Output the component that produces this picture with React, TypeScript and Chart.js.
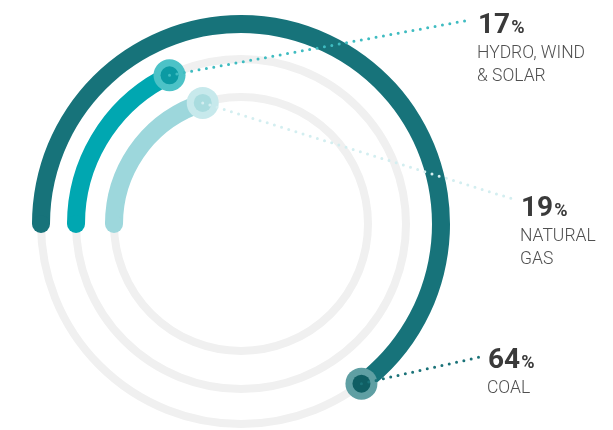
import React, { useEffect, useRef } from "react";
import { Chart, registerables } from "chart.js";

Chart.register(...registerables);

// ---- data (outer ring -> inner ring) ----
const categories = ["COAL", "HYDRO, WIND & SOLAR", "NATURAL GAS"];
const shares = [64, 17, 19];
const valueLabels = ["64", "17", "19"];
const labelLines = [["COAL"], ["HYDRO, WIND", "& SOLAR"], ["NATURAL", "GAS"]];

// ---- styles ----
const ringColors = ["#17737a", "#00a7b1", "#9dd7dc"];
const haloColors = ["#5f9fa3", "#4cc2c7", "#c7e9ec"];
const dotColors = ["#0f5e63", "#0b9aa3", "#a9dcdf"];
const leaderColors = ["#1a7278", "#3fbcc1", "#d3eef0"];
const labelAnchors = [
  { lx: 480, ly: 357, tx: 488, ty: 368 },
  { lx: 470, ly: 20, tx: 478, ty: 33 },
  { lx: 513, ly: 199, tx: 521, ty: 216 },
];
const RING_W = 18;
const GAPS = [17, 20];

export default function App() {
  const ref = useRef<HTMLCanvasElement | null>(null);

  useEffect(() => {
    if (!ref.current) return;
    const ringIdx: number[] = [];
    const datasets: any[] = [];
    shares.forEach((v, i) => {
      ringIdx.push(datasets.length);
      datasets.push({
        label: categories[i],
        data: [v, 100 - v],
        backgroundColor: [ringColors[i], "rgba(0,0,0,0)"],
        borderWidth: 0,
        weight: RING_W,
        hoverOffset: 0,
      });
      if (i < shares.length - 1) {
        datasets.push({
          label: "gap",
          data: [100],
          backgroundColor: ["rgba(0,0,0,0)"],
          borderWidth: 0,
          weight: GAPS[i],
          hoverOffset: 0,
        });
      }
    });

    const ringPlugin = {
      id: "ringDecor",
      beforeDatasetsDraw(chart: any) {
        const ctx = chart.ctx;
        ctx.save();
        ringIdx.forEach((di) => {
          const a: any = chart.getDatasetMeta(di).data[0];
          const r = (a.innerRadius + a.outerRadius) / 2;
          ctx.beginPath();
          ctx.arc(a.x, a.y, r, 0, Math.PI * 2);
          ctx.strokeStyle = "#f0f0f0";
          ctx.lineWidth = 8;
          ctx.stroke();
        });
        ctx.restore();
      },
      afterDatasetsDraw(chart: any) {
        const ctx = chart.ctx;
        ctx.save();
        const ends: { x: number; y: number }[] = [];
        ringIdx.forEach((di, i) => {
          const a: any = chart.getDatasetMeta(di).data[0];
          const r = (a.innerRadius + a.outerRadius) / 2;
          const th = a.outerRadius - a.innerRadius;
          // round caps (start and end), like a round line cap
          ctx.fillStyle = ringColors[i];
          ctx.beginPath();
          ctx.arc(a.x + r * Math.cos(a.startAngle), a.y + r * Math.sin(a.startAngle), th / 2, 0, Math.PI * 2);
          ctx.fill();
          ctx.beginPath();
          ctx.arc(a.x + r * Math.cos(a.endAngle), a.y + r * Math.sin(a.endAngle), th / 2, 0, Math.PI * 2);
          ctx.fill();
          // end marker sits at the tip of the round cap
          const tip = a.endAngle + th / 2 / r;
          const ex = a.x + r * Math.cos(tip);
          const ey = a.y + r * Math.sin(tip);
          ctx.beginPath();
          ctx.arc(ex, ey, 16, 0, Math.PI * 2);
          ctx.fillStyle = haloColors[i];
          ctx.fill();
          ctx.beginPath();
          ctx.arc(ex, ey, 9, 0, Math.PI * 2);
          ctx.fillStyle = dotColors[i];
          ctx.fill();
          ends.push({ x: ex, y: ey });
        });
        // dotted leaders
        ends.forEach((p, i) => {
          const an = labelAnchors[i];
          ctx.beginPath();
          ctx.setLineDash([0, 7.5]);
          ctx.lineCap = "round";
          ctx.lineWidth = 3;
          ctx.strokeStyle = leaderColors[i];
          ctx.moveTo(p.x, p.y);
          ctx.lineTo(an.lx, an.ly);
          ctx.stroke();
        });
        ctx.restore();
      },
      afterDraw(chart: any) {
        const ctx = chart.ctx;
        ctx.save();
        ctx.textBaseline = "alphabetic";
        ctx.textAlign = "left";
        labelAnchors.forEach((an, i) => {
          ctx.fillStyle = "#3a3a3a";
          ctx.font = "bold 28px Roboto";
          ctx.fillText(valueLabels[i], an.tx, an.ty);
          const w = ctx.measureText(valueLabels[i]).width;
          ctx.font = "bold 18px Roboto";
          ctx.fillText("%", an.tx + w + 1, an.ty);
          ctx.font = "300 17.5px Roboto";
          ctx.fillStyle = "#505050";
          labelLines[i].forEach((line, k) => {
            ctx.fillText(line, an.tx - 1, an.ty + 25 + k * 23);
          });
        });
        ctx.restore();
      },
    };

    const chart = new Chart(ref.current, {
      type: "doughnut",
      data: { labels: ["value", "rest"], datasets },
      options: {
        responsive: false,
        animation: false,
        events: [],
        cutout: 118,
        rotation: -90,
        circumference: 360,
        layout: { padding: { left: 32, right: 163, top: 15, bottom: 37 } },
        plugins: { legend: { display: false }, tooltip: { enabled: false } },
      } as any,
      plugins: [ringPlugin],
    });
    return () => chart.destroy();
  }, []);

  return (
    <div
      style={{
        position: "fixed",
        left: 0,
        top: 0,
        width: 613,
        height: 430,
        overflow: "hidden",
        background: "#ffffff",
      }}
    >
      <canvas ref={ref} width={613} height={470} style={{ display: "block" }} />
    </div>
  );
}
